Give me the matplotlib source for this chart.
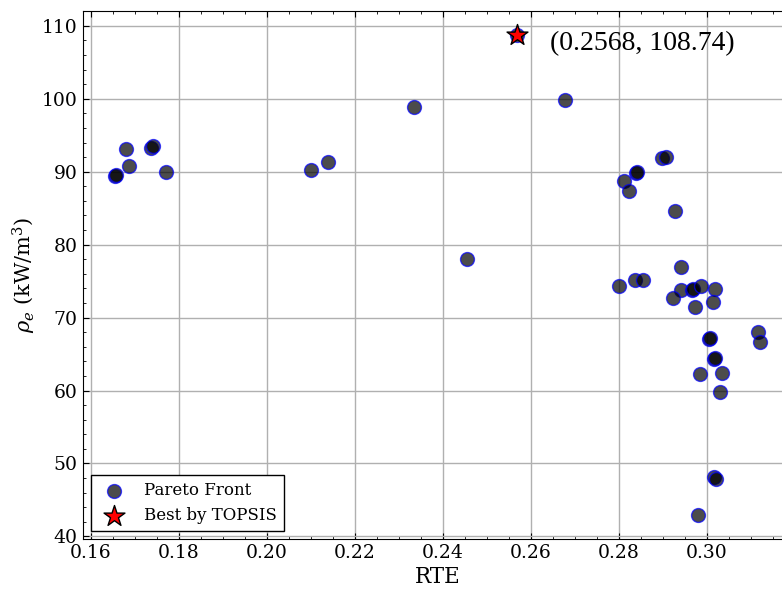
import matplotlib
matplotlib.use("Agg")
import matplotlib.pyplot as plt
from matplotlib.ticker import AutoMinorLocator

plt.rcParams['font.family'] = ['DejaVu Serif']
plt.rcParams['mathtext.fontset'] = 'dejavuserif'

rte = [0.1655, 0.1658, 0.1680, 0.1686, 0.1737, 0.1742, 0.1770,
       0.2101, 0.2139, 0.2334, 0.2454, 0.2677, 0.2568,
       0.2899, 0.2906, 0.2838, 0.2841, 0.2811, 0.2824, 0.2927,
       0.2942, 0.2801, 0.2836, 0.2854, 0.2940, 0.2922, 0.2965, 0.2968,
       0.2986, 0.2972, 0.3018, 0.3013, 0.3115, 0.3120, 0.3005, 0.3008,
       0.3016, 0.3019, 0.2985, 0.3035, 0.3029, 0.3017, 0.3021, 0.2980]
rho = [89.4, 89.5, 93.15, 90.8, 93.2, 93.5, 90.0,
       90.3, 91.3, 98.85, 78.1, 99.77, 108.74,
       91.86, 92.0, 89.8, 89.9, 88.77, 87.34, 84.6,
       76.9, 74.3, 75.15, 75.15, 73.8, 72.7, 73.8, 73.9,
       74.4, 71.5, 73.9, 72.2, 68.0, 66.66, 67.07, 67.2,
       64.3, 64.4, 62.23, 62.47, 59.86, 48.2, 47.85, 42.9]

best_rte = 0.2568
best_rho = 108.74
best_label = "(0.2568, 108.74)"

fig = plt.figure(figsize=(7.82, 5.89), dpi=100)
ax = fig.add_axes([82.7 / 782, (589 - 539.3) / 589, (792 - 82.7) / 782, (539.3 - 11) / 589])

ax.scatter(rte, rho, s=100, c='black', edgecolors='blue', linewidths=1, alpha=0.7,
           label='Pareto Front', zorder=3)
ax.scatter([best_rte], [best_rho], s=250, marker='*', c='red', edgecolors='black',
           linewidths=1, label='Best by TOPSIS', zorder=4)
ax.annotate(best_label, (best_rte, best_rho), xytext=(24, -6), textcoords='offset points',
            fontsize=20, family='Liberation Serif', va='center', ha='left')

ax.xaxis.set_minor_locator(AutoMinorLocator())
ax.yaxis.set_minor_locator(AutoMinorLocator())
ax.tick_params(which='both', direction='in', top=True, right=True, labelsize=13.5)
ax.tick_params(which='major', length=4)
ax.tick_params(which='minor', length=2)
ax.grid(True, which='major', color='#b0b0b0', linewidth=1)
ax.set_axisbelow(True)

ax.set_xlabel('RTE', fontsize=15.5, labelpad=3)
ax.set_ylabel(r'$\rho_e$ (kW/m$^3$)', fontsize=15, labelpad=3)

leg = ax.legend(loc='lower left', fontsize=12, fancybox=False, edgecolor='black',
                framealpha=1, borderaxespad=0.5)
leg.get_frame().set_linewidth(1)

fig.savefig('out.png', dpi=100)
